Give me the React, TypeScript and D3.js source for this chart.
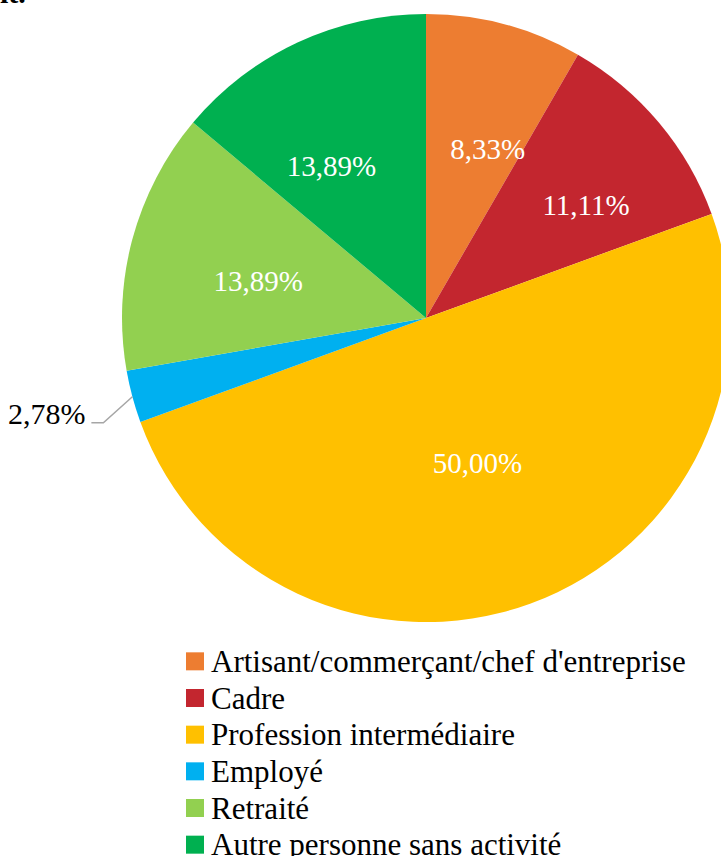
import React from "react";
import * as d3 from "d3";

const categories = [
  "Artisant/commerçant/chef d'entreprise",
  "Cadre",
  "Profession intermédiaire",
  "Employé",
  "Retraité",
  "Autre personne sans activité",
];
const values = [8.33, 11.11, 50.0, 2.78, 13.89, 13.89];
const labels = ["8,33%", "11,11%", "50,00%", "2,78%", "13,89%", "13,89%"];
const colors = ["#ED7D31", "#C3262F", "#FFC000", "#00B0F0", "#92D050", "#00B050"];

// label style adjustments (inside labels)
const labelNudge: [number, number][] = [
  [16, 1],
  [25, 0],
  [-9, -21],
  [0, 0],
  [2.5, 8.6],
  [-20, 7.5],
];
const outsideIndex = 3;

const W = 721;
const H = 856;
const cx = 426;
const cy = 318;
const R = 304;
const FONT = "Liberation Serif";

export default function App() {
  const pie = d3
    .pie<number>()
    .sort(null)
    .value((d) => d)
    .startAngle(0)
    .endAngle(2 * Math.PI);
  const arcs = pie(values);
  const arc = d3.arc<d3.PieArcDatum<number>>().innerRadius(0).outerRadius(R);
  const labelArc = d3
    .arc<d3.PieArcDatum<number>>()
    .innerRadius(R * 0.58)
    .outerRadius(R * 0.58);

  const legendY = d3
    .scaleBand<number>()
    .domain(d3.range(categories.length))
    .range([643, 863])
    .paddingInner(0);

  return (
    <div style={{ position: "absolute", left: 0, top: 0, width: W, height: H, overflow: "hidden", background: "#fff" }}>
      <svg width={W} height={H} style={{ display: "block" }}>
        <text x={0} y={3} fontSize={30} fontWeight="bold" fill="#000" style={{ fontFamily: FONT }}>it.</text>
        <g transform={`translate(${cx},${cy})`}>
          {arcs.map((a, i) => (
            <path key={i} d={arc(a) || ""} fill={colors[i]} />
          ))}
          {arcs.map((a, i) => {
            if (i === outsideIndex) {
              const mid = (a.startAngle + a.endAngle) / 2;
              const sx = R * Math.sin(mid);
              const sy = -R * Math.cos(mid);
              const ex = sx - 29;
              const ey = sy + 26;
              const fx = ex - 12;
              return (
                <g key={i}>
                  <polyline
                    points={`${sx},${sy} ${ex},${ey} ${fx},${ey}`}
                    fill="none"
                    stroke="#A6A6A6"
                    strokeWidth={1.5}
                  />
                  <text x={fx - 6} y={ey - 9} textAnchor="end" dominantBaseline="central" fontSize={30} fill="#000" style={{ fontFamily: FONT }}>
                    {labels[i]}
                  </text>
                </g>
              );
            }
            const [lx, ly] = labelArc.centroid(a);
            return (
              <text
                key={i}
                x={lx + labelNudge[i][0]}
                y={ly + labelNudge[i][1]}
                textAnchor="middle"
                dominantBaseline="central"
                fontSize={29}
                fill="#fff"
                style={{ fontFamily: FONT }}
              >
                {labels[i]}
              </text>
            );
          })}
        </g>
        <g>
          {categories.map((c, i) => {
            const yc = (legendY(i) as number) + legendY.bandwidth() / 2;
            return (
              <g key={i}>
                <rect x={186} y={yc - 9} width={18} height={18} fill={colors[i]} />
                <text x={211} y={yc} dominantBaseline="central" fontSize={31} fill="#000" style={{ fontFamily: FONT }}>
                  {c}
                </text>
              </g>
            );
          })}
        </g>
      </svg>
    </div>
  );
}
